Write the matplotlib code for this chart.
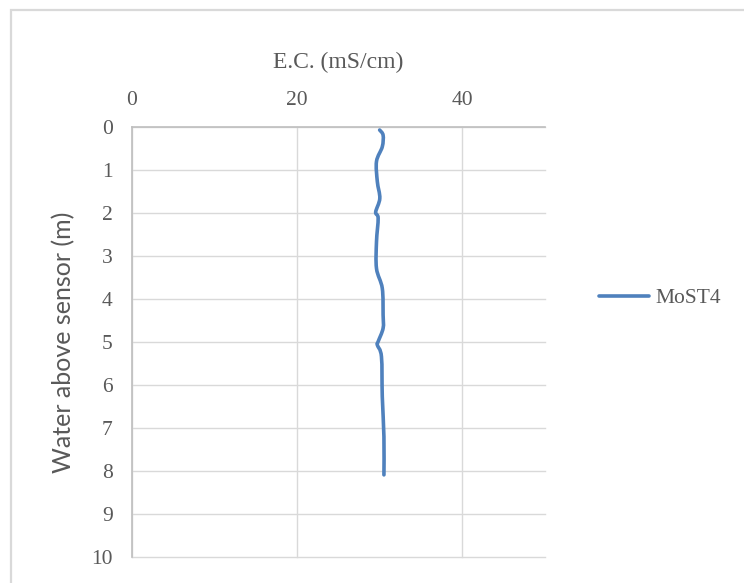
import matplotlib
matplotlib.use("Agg")
import matplotlib.pyplot as plt
from matplotlib.patches import Rectangle, PathPatch
from matplotlib.path import Path

# E.C. profile readings for sensor MoST4
depth_m = [0.07, 0.19, 0.46, 0.80, 1.27, 1.66, 1.98, 2.12, 2.67, 3.29,
           3.75, 4.37, 4.68, 4.99, 5.07, 5.34, 6.27, 7.20, 8.09]
ec_mscm = [29.98, 30.4, 30.3, 29.6, 29.7, 30.0, 29.5, 29.8, 29.6, 29.6,
           30.3, 30.4, 30.4, 29.8, 29.7, 30.2, 30.3, 30.5, 30.5]
series_name = "MoST4"
x_ticks = [0, 20, 40]
y_ticks = list(range(0, 11))

W, H = 744, 583
fig = plt.figure(figsize=(W / 100, H / 100), dpi=100)

# outer chart frame (runs past the right and bottom edges)
fig.patches.append(Rectangle((10.5 / W, -0.1), 1.2, 1.1 - 10.5 / H, transform=fig.transFigure,
                             fill=False, edgecolor="#d9d9d9", linewidth=1.6, zorder=0))

ax = fig.add_axes([132 / W, 1 - 557 / H, (545 - 132) / W, (557 - 127) / H])

serif = "Liberation Serif"
tick_col = "#595959"
line_col = "#4f81bd"


def smooth_path(xs, ys, tension=1 / 6):
    """Catmull-Rom style cubic Bezier through the points."""
    pts = list(zip(xs, ys))
    verts = [pts[0]]
    codes = [Path.MOVETO]
    n = len(pts)
    for i in range(n - 1):
        p0 = pts[i - 1] if i > 0 else pts[i]
        p1 = pts[i]
        p2 = pts[i + 1]
        p3 = pts[i + 2] if i + 2 < n else pts[i + 1]
        c1 = (p1[0] + (p2[0] - p0[0]) * tension, p1[1] + (p2[1] - p0[1]) * tension)
        c2 = (p2[0] - (p3[0] - p1[0]) * tension, p2[1] - (p3[1] - p1[1]) * tension)
        verts += [c1, c2, p2]
        codes += [Path.CURVE4] * 3
    return Path(verts, codes)


curve = PathPatch(smooth_path(ec_mscm, depth_m), fill=False, edgecolor=line_col,
                  linewidth=2.6, capstyle="round", joinstyle="round", zorder=3)
ax.add_patch(curve)
# legend handle for the series
line, = ax.plot([], [], color=line_col, linewidth=2.6, solid_capstyle="round")

ax.set_xlim(0, 50)
ax.set_ylim(10, 0)
ax.xaxis.tick_top()
ax.xaxis.set_label_position("top")
ax.set_xticks(x_ticks)
ax.set_yticks(y_ticks)
ax.tick_params(length=0, colors=tick_col, labelsize=15.5)
ax.tick_params(axis="x", pad=12)
ax.tick_params(axis="y", pad=14)
for lab in ax.get_xticklabels() + ax.get_yticklabels():
    lab.set_fontfamily(serif)

ax.grid(True, color="#d9d9d9", linewidth=1.0)
for gl in ax.get_xgridlines() + ax.get_ygridlines():
    gl.set_clip_on(False)
ax.set_axisbelow(True)
for side in ("right", "bottom"):
    ax.spines[side].set_visible(False)
ax.spines["left"].set_color("#bfbfbf")
ax.spines["top"].set_color("#bfbfbf")
ax.spines["left"].set_linewidth(1.2)
ax.spines["top"].set_linewidth(1.2)

ax.set_xlabel("E.C. (mS/cm)", fontfamily=serif, fontsize=17, color=tick_col, labelpad=17)
ax.set_ylabel("Water above sensor (m)", fontfamily="Lato", fontsize=18, color=tick_col, labelpad=11)

fig.legend([line], [series_name], loc="center left", bbox_to_anchor=(580 / W, 1 - 298 / H),
           frameon=False, prop={"family": serif, "size": 15.5}, labelcolor=tick_col,
           handlelength=2.3, handletextpad=0.3)

fig.savefig("out.png", dpi=100)
